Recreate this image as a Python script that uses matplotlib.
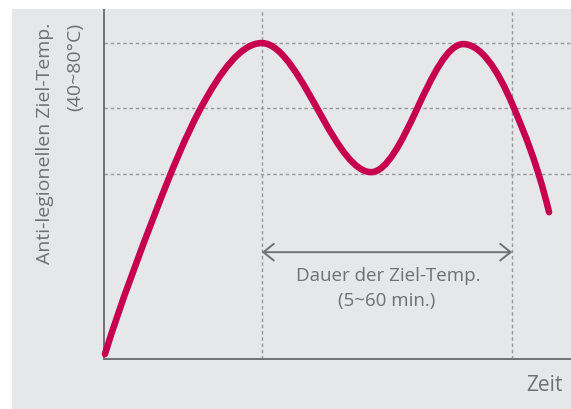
import matplotlib
matplotlib.use("Agg")
import numpy as np
from matplotlib import pyplot as plt
from matplotlib.patches import Rectangle, PathPatch
from matplotlib.path import Path

zeit = [0.2, 11.3, 20.6, 33.8, 46.9, 57.2, 67.0, 76.9, 87.6, 95.3]
temp = [1.4, 43.1, 71.8, 90.8, 69.0, 53.7, 71.8, 90.5, 72.7, 42.2]
steigung = [4.3, 3.5, 2.5, 0.0, -2.4, 0.0, 2.9, 0.0, -3.2, -5.5]

hilfslinien_y = [90.8, 72.1, 53.2]
hilfslinien_x = [33.8, 87.4]
pfeil_y = 30.7

ylabel_zeilen = ["Anti-legionellen Ziel-Temp.", "(40~80°C)"]
dauer_zeilen = ["Dauer der Ziel-Temp.", "(5~60 min.)"]

W, H = 571, 410
GRAU = "#6f7073"
KURVE = "#c6004f"


def hermite_pfad(xs, ys, ms):
    # kubische Bezier-Segmente mit vorgegebenen Tangenten
    verts = [(xs[0], ys[0])]
    codes = [Path.MOVETO]
    for i in range(len(xs) - 1):
        dx = (xs[i + 1] - xs[i]) / 3
        verts += [(xs[i] + dx, ys[i] + ms[i] * dx),
                  (xs[i + 1] - dx, ys[i + 1] - ms[i + 1] * dx),
                  (xs[i + 1], ys[i + 1])]
        codes += [Path.CURVE4] * 3
    return Path(verts, codes)


plt.rcParams["font.family"] = ["Open Sans", "DejaVu Sans"]

fig = plt.figure(figsize=(W / 100, H / 100), dpi=100)
fig.patches.append(Rectangle((12 / W, 0), 1, 400 / H, transform=fig.transFigure,
                             facecolor="#e6e7e9", edgecolor="none", zorder=-1))

ax = fig.add_axes([104 / W, 1 - 360 / H, (W - 104) / W, (360 - 11) / H])
ax.set_zorder(1)
ax.set_facecolor("none")
ax.set_xlim(0, 100)
ax.set_ylim(0, 100.3)

for y in hilfslinien_y:
    ax.axhline(y, color="#97989b", lw=1.0, dashes=(2.5, 2), zorder=1)
for x in hilfslinien_x:
    ax.axvline(x, color="#97989b", lw=1.0, dashes=(2.5, 2), zorder=1)

kurve = PathPatch(hermite_pfad(zeit, temp, steigung), fill=False, edgecolor=KURVE,
                  lw=4.7, capstyle="round", joinstyle="round", clip_on=False, zorder=3)
ax.add_patch(kurve)

ax.annotate("", xy=(hilfslinien_x[1], pfeil_y), xytext=(hilfslinien_x[0], pfeil_y),
            arrowprops=dict(arrowstyle="<->,head_length=0.75,head_width=0.6",
                            color=GRAU, lw=1.4, shrinkA=0, shrinkB=0))

for s in ["top", "right"]:
    ax.spines[s].set_visible(False)
for s in ["left", "bottom"]:
    ax.spines[s].set_color(GRAU)
    ax.spines[s].set_linewidth(1.4)
ax.set_xticks([])
ax.set_yticks([])

fig.text(45 / W, 1 - 23 / H, ylabel_zeilen[0], rotation=90, ha="center", va="top",
         fontsize=14, color=GRAU)
fig.text(75 / W, 1 - 23 / H, ylabel_zeilen[1], rotation=90, ha="center", va="top",
         fontsize=14, color=GRAU)
fig.text(388 / W, 1 - 276 / H, dauer_zeilen[0], ha="center", va="center",
         fontsize=13.5, color=GRAU)
fig.text(387 / W, 1 - 301 / H, dauer_zeilen[1], ha="center", va="center",
         fontsize=13.5, color=GRAU)
fig.text(563 / W, 1 - 386 / H, "Zeit", ha="right", va="center",
         fontsize=15, color=GRAU)

fig.savefig("out.png", dpi=100)
